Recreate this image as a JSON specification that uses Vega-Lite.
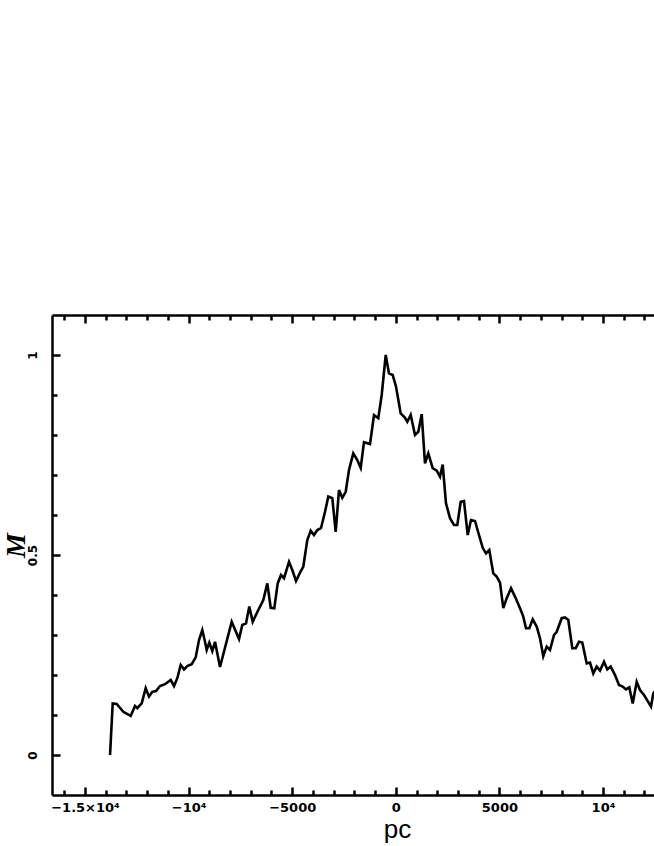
{
  "$schema": "https://vega.github.io/schema/vega-lite/v6.json",
  "width": 602,
  "height": 480,
  "autosize": {"type": "none"},
  "padding": {"left": 52, "top": 315, "right": 0, "bottom": 51},
  "background": "white",
  "config": {"view": {"stroke": null}, "axis": {"grid": false, "domainColor": "black", "tickColor": "black", "labelColor": "black", "titleColor": "black"}},
  "data": {"values": [
    {"x": -13790, "m": 0}, {"x": -13663, "m": 0.129}, {"x": -13469, "m": 0.1275}, {"x": -13151, "m": 0.108},
    {"x": -12794, "m": 0.0975}, {"x": -12586, "m": 0.1225}, {"x": -12475, "m": 0.117}, {"x": -12263, "m": 0.129},
    {"x": -12070, "m": 0.167}, {"x": -11911, "m": 0.146}, {"x": -11751, "m": 0.158}, {"x": -11573, "m": 0.16},
    {"x": -11380, "m": 0.1725}, {"x": -11138, "m": 0.177}, {"x": -10863, "m": 0.1875}, {"x": -10704, "m": 0.1725},
    {"x": -10545, "m": 0.192}, {"x": -10381, "m": 0.225}, {"x": -10221, "m": 0.214}, {"x": -10062, "m": 0.2225},
    {"x": -9850, "m": 0.227}, {"x": -9657, "m": 0.244}, {"x": -9498, "m": 0.2875}, {"x": -9338, "m": 0.3125},
    {"x": -9208, "m": 0.283}, {"x": -9126, "m": 0.2625}, {"x": -9000, "m": 0.281}, {"x": -8856, "m": 0.26},
    {"x": -8725, "m": 0.283}, {"x": -8484, "m": 0.22}, {"x": -7920, "m": 0.333}, {"x": -7567, "m": 0.29},
    {"x": -7408, "m": 0.325}, {"x": -7229, "m": 0.329}, {"x": -7070, "m": 0.371}, {"x": -6906, "m": 0.333},
    {"x": -6636, "m": 0.3625}, {"x": -6394, "m": 0.3875}, {"x": -6201, "m": 0.429}, {"x": -6037, "m": 0.368},
    {"x": -5864, "m": 0.367}, {"x": -5700, "m": 0.429}, {"x": -5540, "m": 0.45}, {"x": -5395, "m": 0.442},
    {"x": -5154, "m": 0.483}, {"x": -4995, "m": 0.4625}, {"x": -4816, "m": 0.435}, {"x": -4623, "m": 0.456},
    {"x": -4464, "m": 0.471}, {"x": -4271, "m": 0.5375}, {"x": -4107, "m": 0.561}, {"x": -3948, "m": 0.55},
    {"x": -3788, "m": 0.5625}, {"x": -3610, "m": 0.567}, {"x": -3417, "m": 0.608}, {"x": -3258, "m": 0.646},
    {"x": -3065, "m": 0.642}, {"x": -2900, "m": 0.558}, {"x": -2741, "m": 0.6625}, {"x": -2582, "m": 0.643},
    {"x": -2418, "m": 0.658}, {"x": -2259, "m": 0.7125}, {"x": -2051, "m": 0.754}, {"x": -1858, "m": 0.7375},
    {"x": -1694, "m": 0.718}, {"x": -1535, "m": 0.782}, {"x": -1245, "m": 0.7775}, {"x": -1052, "m": 0.85},
    {"x": -845, "m": 0.842}, {"x": -680, "m": 0.9}, {"x": -487, "m": 1.0}, {"x": -328, "m": 0.954},
    {"x": -150, "m": 0.95}, {"x": 10, "m": 0.921}, {"x": 236, "m": 0.854}, {"x": 444, "m": 0.843},
    {"x": 555, "m": 0.833}, {"x": 719, "m": 0.85}, {"x": 927, "m": 0.8}, {"x": 1086, "m": 0.808},
    {"x": 1250, "m": 0.852}, {"x": 1409, "m": 0.729}, {"x": 1568, "m": 0.754}, {"x": 1781, "m": 0.717},
    {"x": 1974, "m": 0.711}, {"x": 2133, "m": 0.696}, {"x": 2263, "m": 0.726}, {"x": 2423, "m": 0.629},
    {"x": 2616, "m": 0.592}, {"x": 2809, "m": 0.575}, {"x": 2968, "m": 0.575}, {"x": 3132, "m": 0.633},
    {"x": 3291, "m": 0.635}, {"x": 3470, "m": 0.55}, {"x": 3629, "m": 0.5875}, {"x": 3822, "m": 0.585},
    {"x": 4015, "m": 0.55}, {"x": 4194, "m": 0.518}, {"x": 4353, "m": 0.504}, {"x": 4512, "m": 0.5125},
    {"x": 4705, "m": 0.454}, {"x": 4869, "m": 0.446}, {"x": 5029, "m": 0.431}, {"x": 5188, "m": 0.367},
    {"x": 5352, "m": 0.392}, {"x": 5560, "m": 0.417}, {"x": 5753, "m": 0.396}, {"x": 5994, "m": 0.367},
    {"x": 6153, "m": 0.346}, {"x": 6284, "m": 0.317}, {"x": 6443, "m": 0.317}, {"x": 6607, "m": 0.339},
    {"x": 6800, "m": 0.321}, {"x": 6959, "m": 0.292}, {"x": 7118, "m": 0.247}, {"x": 7283, "m": 0.271},
    {"x": 7442, "m": 0.2625}, {"x": 7635, "m": 0.3}, {"x": 7765, "m": 0.308}, {"x": 8006, "m": 0.342},
    {"x": 8166, "m": 0.344}, {"x": 8325, "m": 0.3375}, {"x": 8518, "m": 0.267}, {"x": 8682, "m": 0.267},
    {"x": 8841, "m": 0.283}, {"x": 9000, "m": 0.281}, {"x": 9213, "m": 0.229}, {"x": 9372, "m": 0.231},
    {"x": 9531, "m": 0.204}, {"x": 9695, "m": 0.221}, {"x": 9855, "m": 0.211}, {"x": 10048, "m": 0.233},
    {"x": 10207, "m": 0.214}, {"x": 10371, "m": 0.221}, {"x": 10579, "m": 0.2}, {"x": 10772, "m": 0.175},
    {"x": 10950, "m": 0.171}, {"x": 11110, "m": 0.164}, {"x": 11269, "m": 0.169}, {"x": 11433, "m": 0.129},
    {"x": 11626, "m": 0.183}, {"x": 11785, "m": 0.1625}, {"x": 11978, "m": 0.15}, {"x": 12109, "m": 0.139},
    {"x": 12316, "m": 0.121}, {"x": 12427, "m": 0.154}, {"x": 12654, "m": 0.17}
  ]},
  "resolve": {"axis": {"x": "independent", "y": "independent"}},
  "layer": [
    {
      "mark": {"type": "line", "color": "black", "strokeWidth": 2.6, "clip": true},
      "encoding": {
        "x": {"field": "x", "type": "quantitative", "scale": {"domain": [-16592, 12461], "nice": false, "zero": false},
          "axis": {"orient": "bottom", "values": [-15000, -10000, -5000, 0, 5000, 10000], "ticks": false, "domain": true, "domainWidth": 2.5,
            "labelExpr": "datum.value == -15000 ? '−1.5×10⁴' : datum.value == -10000 ? '−10⁴' : datum.value == 10000 ? '10⁴' : datum.value < 0 ? '−' + abs(datum.value) : '' + datum.value",
            "labelFont": "DejaVu Sans", "labelFontWeight": "bold", "labelFontSize": 13, "labelPadding": 16, "labelBaseline": "alphabetic", "labelFlush": false, "labelOverlap": false,
            "title": "pc", "titleFont": "Liberation Sans", "titleFontSize": 26, "titleFontWeight": "normal", "titleBaseline": "alphabetic", "titleX": 345, "titleY": 42, "titleAnchor": null}},
        "y": {"field": "m", "type": "quantitative", "scale": {"domain": [-0.1, 1.1], "nice": false, "zero": false},
          "axis": {"orient": "left", "values": [0, 0.5, 1], "ticks": false, "domain": true, "domainWidth": 2.5,
            "labelExpr": "datum.value == 0.5 ? '0.5' : '' + datum.value",
            "labelAngle": -90, "labelAlign": "center", "labelBaseline": "alphabetic", "labelPadding": 16,
            "labelFont": "DejaVu Sans", "labelFontWeight": "bold", "labelFontSize": 12, "labelFlush": false, "labelOverlap": false,
            "title": "M", "titleFont": "Liberation Serif", "titleFontStyle": "italic", "titleFontWeight": "bold", "titleFontSize": 28,
            "titleAngle": -90, "titleAlign": "center", "titleBaseline": "middle", "titleX": -36, "titleY": 230}}
      }
    },
    {
      "mark": {"type": "line", "strokeOpacity": 0},
      "encoding": {
        "x": {"field": "x", "type": "quantitative", "scale": {"domain": [-16592, 12461], "nice": false, "zero": false},
          "axis": {"orient": "bottom", "values": [-15000, -10000, -5000, 0, 5000, 10000], "ticks": true, "tickSize": -8, "tickWidth": 2.5, "domain": false, "labels": false, "title": null}},
        "y": {"field": "m", "type": "quantitative", "scale": {"domain": [-0.1, 1.1], "nice": false, "zero": false},
          "axis": {"orient": "left", "values": [0, 0.5, 1], "ticks": true, "tickSize": -8, "tickWidth": 2.5, "domain": false, "labels": false, "title": null}}
      }
    },
    {
      "mark": {"type": "line", "strokeOpacity": 0},
      "encoding": {
        "x": {"field": "x", "type": "quantitative", "scale": {"domain": [-16592, 12461], "nice": false, "zero": false},
          "axis": {"orient": "bottom", "values": [-16000, -14000, -13000, -12000, -11000, -9000, -8000, -7000, -6000, -4000, -3000, -2000, -1000, 1000, 2000, 3000, 4000, 6000, 7000, 8000, 9000, 11000, 12000], "ticks": true, "tickSize": -5, "tickWidth": 2.5, "domain": false, "labels": false, "title": null}},
        "y": {"field": "m", "type": "quantitative", "scale": {"domain": [-0.1, 1.1], "nice": false, "zero": false},
          "axis": {"orient": "left", "values": [0.1, 0.2, 0.3, 0.4, 0.6, 0.7, 0.8, 0.9], "ticks": true, "tickSize": -5, "tickWidth": 2.5, "domain": false, "labels": false, "title": null}}
      }
    },
    {
      "mark": {"type": "line", "strokeOpacity": 0},
      "encoding": {
        "x": {"field": "x", "type": "quantitative", "scale": {"domain": [-16592, 12461], "nice": false, "zero": false},
          "axis": {"orient": "top", "values": [-15000, -10000, -5000, 0, 5000, 10000], "ticks": true, "tickSize": -8, "tickWidth": 2.5, "domain": true, "domainWidth": 2.5, "labels": false, "title": null}},
        "y": {"field": "m", "type": "quantitative", "scale": {"domain": [-0.1, 1.1], "nice": false, "zero": false}, "axis": null}
      }
    },
    {
      "mark": {"type": "line", "strokeOpacity": 0},
      "encoding": {
        "x": {"field": "x", "type": "quantitative", "scale": {"domain": [-16592, 12461], "nice": false, "zero": false},
          "axis": {"orient": "top", "values": [-16000, -14000, -13000, -12000, -11000, -9000, -8000, -7000, -6000, -4000, -3000, -2000, -1000, 1000, 2000, 3000, 4000, 6000, 7000, 8000, 9000, 11000, 12000], "ticks": true, "tickSize": -5, "tickWidth": 2.5, "domain": false, "labels": false, "title": null}},
        "y": {"field": "m", "type": "quantitative", "scale": {"domain": [-0.1, 1.1], "nice": false, "zero": false}, "axis": null}
      }
    }
  ]
}
